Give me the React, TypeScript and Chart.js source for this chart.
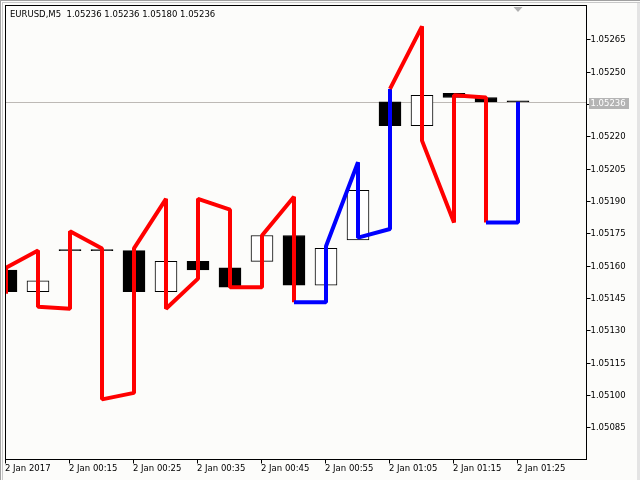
import React, { useEffect, useRef } from 'react';
import { Chart, registerables } from 'chart.js';

Chart.register(...registerables);

// ---- data ----
const title = 'EURUSD,M5  1.05236 1.05236 1.05180 1.05236';
const barIndex = [0, 1, 2, 3, 4, 5, 6, 7, 8, 9, 10, 11, 12, 13, 14, 15, 16];
const openPrices = [1.05158, 1.05148, 1.05167, 1.05167, 1.05167, 1.05148, 1.05162, 1.05159, 1.05162, 1.05174, 1.05151, 1.05172, 1.05236, 1.05225, 1.0524, 1.05238, 1.05236];
const closePrices = [1.05148, 1.05153, 1.05167, 1.05167, 1.05148, 1.05162, 1.05158, 1.0515, 1.05174, 1.05151, 1.05168, 1.05195, 1.05225, 1.05239, 1.05238, 1.05236, 1.05236];
const lineStart = [1.05147, 1.05167, 1.0514, 1.05168, 1.05101, 1.05191, 1.05154, 1.05186, 1.0515, 1.05192, 1.05143, 1.05208, 1.05177, 1.05271, 1.0518, 1.05238, 1.0518];
const lineEnd = [1.05159, 1.05141, 1.05176, 1.05098, 1.05168, 1.0514, 1.05191, 1.0515, 1.05174, 1.05143, 1.05169, 1.05173, 1.05242, 1.05218, 1.05239, 1.0518, 1.05236];
const lineTrend = ['down', 'down', 'down', 'down', 'down', 'down', 'down', 'down', 'down', 'down', 'up', 'up', 'up', 'down', 'down', 'down', 'up'];
const priceTicks = [1.05265, 1.0525, 1.05235, 1.0522, 1.05205, 1.0519, 1.05175, 1.0516, 1.05145, 1.0513, 1.05115, 1.051, 1.05085];
const priceTickLabels = ['1.05265', '1.05250', '1.05235', '1.05220', '1.05205', '1.05190', '1.05175', '1.05160', '1.05145', '1.05130', '1.05115', '1.05100', '1.05085'];
const timeTickBars = [0, 2, 4, 6, 8, 10, 12, 14, 16];
const timeTickLabels = ['2 Jan 2017', '2 Jan 00:15', '2 Jan 00:25', '2 Jan 00:35', '2 Jan 00:45', '2 Jan 00:55', '2 Jan 01:05', '2 Jan 01:15', '2 Jan 01:25'];
const lastPrice = 1.05236;
const lastPriceLabel = '1.05236';
const yMin = 1.0507034;
const yMax = 1.0528045;
const xMin = 0;
const xMax = 18.125;

const BG = '#fcfcfa';
const FONT = '8.5px "DejaVu Sans", Verdana, sans-serif';

const mtPlugin = {
  id: 'mtPlugin',
  beforeDraw(chart: any) {
    const { ctx, width, height } = chart;
    ctx.save();
    ctx.fillStyle = BG;
    ctx.fillRect(0, 0, width, height);
    // outer window frame
    ctx.strokeStyle = '#a0a0a0';
    ctx.lineWidth = 1;
    ctx.beginPath();
    ctx.moveTo(0.5, 0); ctx.lineTo(0.5, height);
    ctx.moveTo(0, 0.5); ctx.lineTo(width, 0.5);
    ctx.stroke();
    ctx.strokeStyle = '#c8c8c8';
    ctx.beginPath();
    ctx.moveTo(2.5, 2); ctx.lineTo(2.5, height);
    ctx.moveTo(2, 2.5); ctx.lineTo(width, 2.5);
    ctx.stroke();
    ctx.fillStyle = '#e4e4e4';
    ctx.fillRect(width - 3, 3, 3, height - 3);
    ctx.restore();
  },
  beforeDatasetsDraw(chart: any) {
    const { ctx, chartArea } = chart;
    const y = chart.scales.y;
    const py = Math.round(y.getPixelForValue(lastPrice)) + 0.5;
    ctx.save();
    ctx.strokeStyle = '#bdb9b5';
    ctx.lineWidth = 1;
    ctx.beginPath();
    ctx.moveTo(chartArea.left, py);
    ctx.lineTo(chartArea.right, py);
    ctx.stroke();
    ctx.restore();
  },
  afterDraw(chart: any) {
    const { ctx, chartArea } = chart;
    const xs = chart.scales.x;
    const ys = chart.scales.y;
    const L = chartArea.left - 0.5;
    const T = chartArea.top - 0.5;
    const R = chartArea.right + 0.5;
    const B = chartArea.bottom + 0.5;
    ctx.save();
    // frame
    ctx.strokeStyle = '#000';
    ctx.lineWidth = 1;
    ctx.strokeRect(L, T, R - L, B - T);
    ctx.font = FONT;
    ctx.fillStyle = '#000';
    // y ticks
    ctx.textAlign = 'left';
    ctx.textBaseline = 'middle';
    priceTicks.forEach((v, i) => {
      const py = Math.round(ys.getPixelForValue(v)) + 0.5;
      ctx.beginPath();
      ctx.moveTo(R, py);
      ctx.lineTo(R + 4, py);
      ctx.stroke();
      ctx.fillText(priceTickLabels[i], R + 4, py + 0.5);
    });
    // last price label
    const lp = Math.round(ys.getPixelForValue(lastPrice));
    ctx.fillStyle = '#b4b4b4';
    ctx.fillRect(R + 2.5, lp - 4, 40, 11);
    ctx.fillStyle = '#ffffff';
    ctx.fillText(lastPriceLabel, R + 4, lp + 1.5);
    // x ticks
    ctx.fillStyle = '#000';
    ctx.textBaseline = 'middle';
    timeTickBars.forEach((b, i) => {
      const px = Math.round(xs.getPixelForValue(b)) - 0.5;
      ctx.beginPath();
      ctx.moveTo(px, B);
      ctx.lineTo(px, B + 4);
      ctx.stroke();
      ctx.fillText(timeTickLabels[i], px - 0.5, B + 9);
    });
    // title
    ctx.fillText(title, 10, 14.5);
    // shift marker triangle
    const tx = Math.round(xs.getPixelForValue(barIndex[barIndex.length - 1]));
    ctx.fillStyle = '#b0b0b0';
    ctx.beginPath();
    ctx.moveTo(tx - 4.5, T + 1.5);
    ctx.lineTo(tx + 4.5, T + 1.5);
    ctx.lineTo(tx, T + 6.5);
    ctx.closePath();
    ctx.fill();
    ctx.restore();
  },
};

export default function App() {
  const ref = useRef<HTMLCanvasElement | null>(null);
  useEffect(() => {
    if (!ref.current) return;
    const candleData = barIndex.map((i) => ({ x: i, y: [openPrices[i], closePrices[i]] }));
    const lineData: { x: number; y: number }[] = [];
    barIndex.forEach((i) => {
      lineData.push({ x: i, y: lineStart[i] });
      lineData.push({ x: i, y: lineEnd[i] });
    });
    const colorFor = (t: string) => (t === 'up' ? '#0000ff' : '#ff0000');
    const chart = new Chart(ref.current, {
      type: 'bar',
      data: {
        datasets: [
          {
            type: 'line',
            data: lineData,
            order: 0,
            borderColor: '#ff0000',
            borderWidth: 4,
            borderJoinStyle: 'bevel',
            pointRadius: 0,
            tension: 0,
            clip: 0,
            segment: {
              borderColor: (c: any) => colorFor(lineTrend[Math.floor(c.p1DataIndex / 2)]),
            },
          } as any,
          {
            type: 'bar',
            data: candleData as any,
            order: 1,
            grouped: false,
            barThickness: 22,
            minBarLength: 1,
            borderSkipped: false,
            borderWidth: 1,
            borderColor: '#000000',
            backgroundColor: (c: any) => {
              const i = c.dataIndex;
              return closePrices[i] > openPrices[i] ? '#ffffff' : '#000000';
            },
          } as any,
        ],
      },
      plugins: [mtPlugin],
      options: {
        animation: false,
        responsive: false,
        maintainAspectRatio: false,
        devicePixelRatio: 1,
        events: [],
        layout: { padding: { left: 6, top: 6, right: 54, bottom: 21 } },
        plugins: { legend: { display: false }, tooltip: { enabled: false }, title: { display: false } },
        scales: {
          x: { type: 'linear', min: xMin, max: xMax, display: false, offset: false, grid: { display: false } },
          y: { type: 'linear', min: yMin, max: yMax, display: false, grid: { display: false } },
        },
      } as any,
    });
    return () => chart.destroy();
  }, []);
  return (
    <div style={{ position: 'fixed', left: 0, top: 0, width: 640, height: 480, background: BG }}>
      <canvas ref={ref} width={640} height={480} style={{ display: 'block', width: 640, height: 480 }} />
    </div>
  );
}
